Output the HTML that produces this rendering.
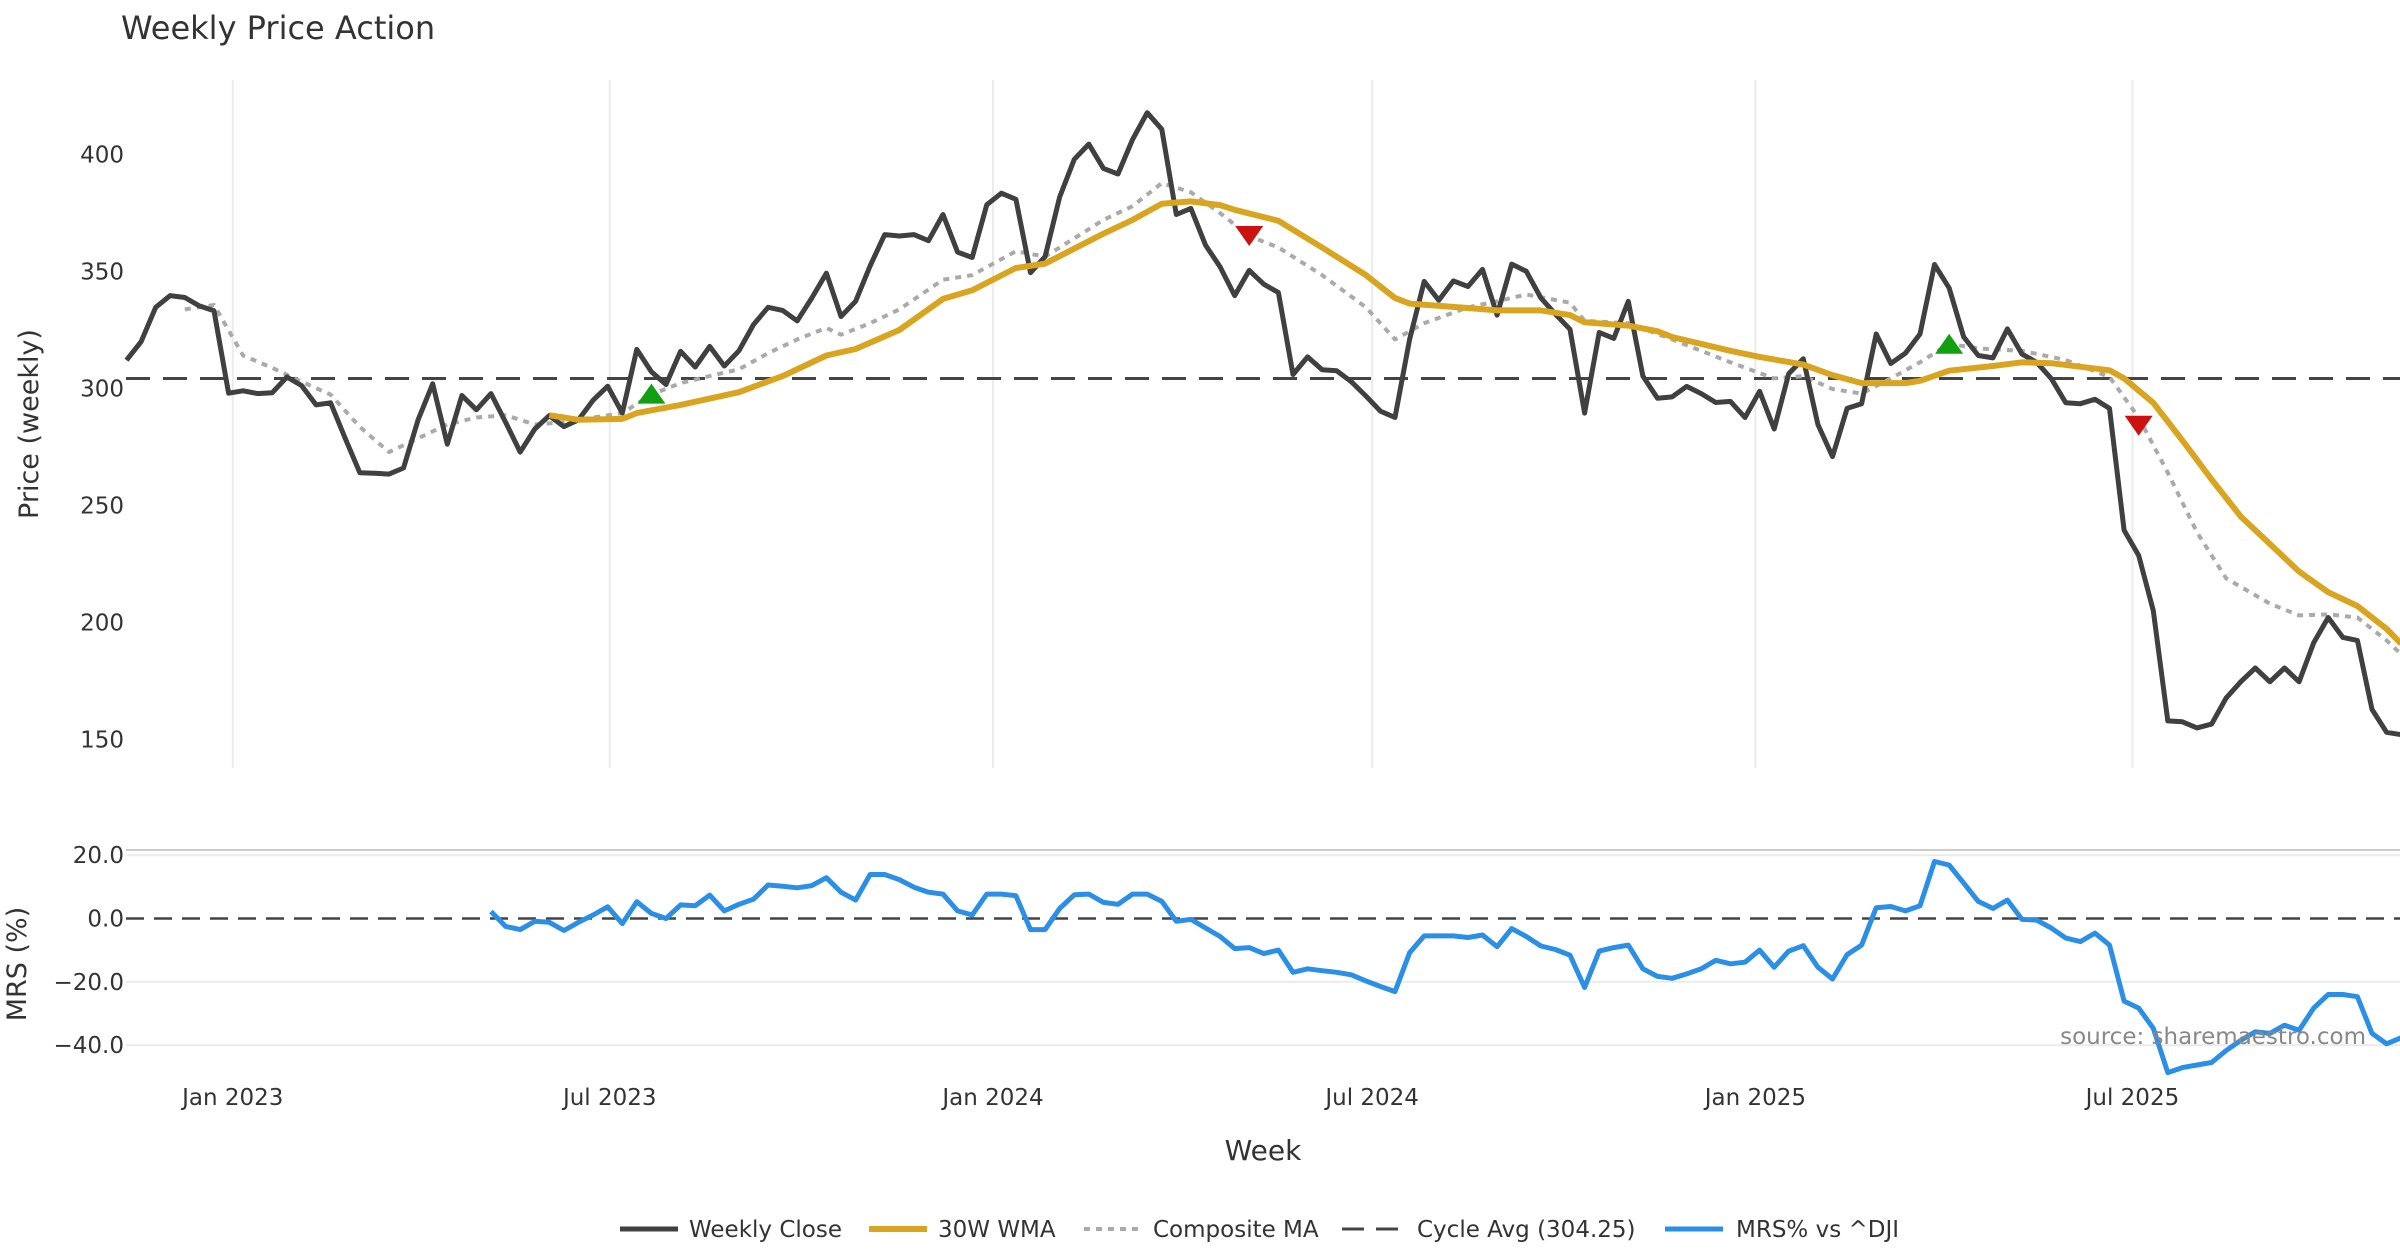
<!DOCTYPE html>
<html><head><meta charset="utf-8">
<style>
html,body{margin:0;padding:0;background:#fff;}
svg{display:block;font-family:"DejaVu Sans","Liberation Sans",sans-serif;}
</style></head>
<body>
<svg id="chart" width="2400" height="1260" viewBox="0 0 2400 1260" xmlns="http://www.w3.org/2000/svg">
<text x="121" y="39" font-size="32" fill="#333">Weekly Price Action</text>
<g id="grid"></g>
<g id="axes"></g>
<g id="series"></g>
<g id="legend"></g>
</svg>
<script>
const closeValues=[312.1,320,334.7,339.7,338.9,335.3,333.2,298,299,297.8,298.2,304.9,301.3,293,293.9,278.7,264,263.8,263.4,266,286.6,302,276.2,297,290.9,297.8,285.6,272.8,282.7,288.4,283.7,286.6,295,301,289.5,316.7,307.2,301.7,315.9,309.2,318,309.6,316.1,327.3,334.7,333.4,328.9,338.7,349.3,330.8,337.3,352.4,365.8,365.2,365.8,363.2,374.4,358.3,356,378.6,383.5,380.9,349.5,356.4,381.9,398,404.5,394.1,391.7,406.5,417.9,410.8,374.4,377,361.3,352,339.7,350.5,344.6,341,306,313.5,308,307.6,302.9,296.8,290.3,287.6,321,345.8,337.7,346,343.6,350.9,331.4,353.2,350.1,338.7,331.8,325.3,289.5,324,321.4,337.3,305.3,295.8,296.4,300.9,297.8,294,294.5,287.6,298.8,282.7,306.3,312.7,284.6,270.9,291.5,293.5,323.3,310.7,315.1,323.3,353,343,322,314.1,313.1,325.5,314.7,311.2,304.3,293.9,293.5,295.4,291.5,239.4,228.6,205,157.9,157.5,154.9,156.5,167.7,174.6,180.5,174.6,180.5,174.6,191.3,202.1,193.6,192.3,162.8,153,152];
const wmaWeeks=[29,31,34,35,38,42,45,48,50,53,56,58,61,63,67,69,71,73,75,76,79,82,85,87,88,92,94,97,99,100,103,105,106,110,112,115,117,119,122,123,125,128,130,132,136,137,139,141,143,145,147,149,151,153,155,156];
const wmaValues=[288.6,286.6,287,289.5,293,298.4,305.3,314.1,316.9,325,338.3,342,351.5,353.4,366.2,372.1,379,380,378.4,376.4,371.7,360.3,348.5,338.7,336.3,334.4,333.4,333.4,331.4,328.3,326.9,324.5,322,316.1,313.5,310.2,305.7,302.3,302.3,303.3,307.6,309.6,311.2,310.8,307.8,304.3,293.9,277.8,261.1,245.3,233.5,221.7,212.9,207,197.2,190.9];
const compWeeks=[4,6,8,10,12,14,16,18,20,22,24,26,28,30,32,34,36,38,40,42,44,46,48,49,51,53,56,58,61,63,65,67,69,71,73,75,77,79,82,85,87,89,92,94,96,99,100,103,106,110,113,115,117,119,121,123,125,127,130,133,136,138,140,142,144,147,149,151,153,155,156];
const compValues=[333.8,335.7,314.1,308.8,302.9,297.4,283.6,272.8,278.7,284.6,287.6,288.6,284.6,285.6,287.6,289.5,297.4,302.3,305.3,308.2,315.1,321,325.9,323,327.9,333.8,346.5,348.5,358.7,356.4,364.2,372.1,378,387.8,383.9,375,365.2,360.3,348.5,334.7,321,327.9,334.7,337.3,340.2,336.7,328.9,327.9,321,311.2,304.3,305.3,299.8,297.8,304.3,311.2,319.1,317.1,316.1,312.2,304.9,287.6,264,238.5,218.8,208,203,203.4,202.1,192.3,186.4];
const mrsStart=25;
const mrsValues=[2.2,-2.5,-3.5,-0.9,-1.2,-3.8,-1.2,1.1,3.7,-1.6,5.3,1.6,0,4.3,4,7.4,2.4,4.5,6.1,10.6,10.2,9.7,10.4,12.9,8.3,5.8,13.9,13.9,12.3,9.9,8.3,7.7,2.4,1.1,7.7,7.7,7.2,-3.5,-3.5,3.2,7.5,7.7,5.1,4.5,7.7,7.7,5.4,-0.9,-0.3,-3,-5.7,-9.5,-9.2,-11.1,-10,-17,-15.9,-16.5,-17,-17.8,-19.7,-21.5,-23.1,-10.8,-5.5,-5.5,-5.5,-6,-5.2,-8.9,-3.2,-5.7,-8.7,-9.8,-11.6,-21.8,-10.3,-9.2,-8.4,-15.9,-18.3,-18.9,-17.5,-15.9,-13.2,-14.3,-13.8,-10,-15.4,-10.3,-8.6,-15.4,-19.1,-11.4,-8.4,3.4,3.8,2.4,4,18,16.9,11.2,5.4,3.2,5.8,-0.3,-0.5,-3,-6.2,-7.3,-4.6,-8.4,-26.1,-28.3,-34.7,-48.7,-47.1,-46.3,-45.5,-41.7,-38.5,-35.8,-36.3,-33.7,-35.3,-28.3,-24,-24,-24.7,-36.3,-39.6,-37.7];
const buyWeeks=[36,125];
const buyValues=[297.4,318.7];
const sellWeeks=[77,138];
const sellValues=[365.6,284.5];
const cycleAvg=304.25;
const priceTicks=[150,200,250,300,350,400];
const mrsTicks=[20,0,-20,-40];
const mrsTickLabels=["20.0","0.0","\u221220.0","\u221240.0"];
const xTickLabels=["Jan 2023","Jul 2023","Jan 2024","Jul 2024","Jan 2025","Jul 2025"];
const xTickDates=["2023-01-01","2023-07-01","2024-01-01","2024-07-01","2025-01-01","2025-07-01"];
const startDate="2022-11-11";

const NS="http://www.w3.org/2000/svg";
const DAY=86400000;
const t0=Date.parse(startDate);
function xDate(s){return 126.5+(Date.parse(s)-t0)/DAY*2.083;}
function xWeek(i){return 126.5+i*7*2.083;}
function yPrice(v){return 154.6+(400-v)*2.339;}
function yMrs(v){return 918.5-v*3.165;}
function mk(tag,attrs,parent){const e=document.createElementNS(NS,tag);for(const k in attrs)e.setAttribute(k,attrs[k]);parent.appendChild(e);return e;}
const grid=document.getElementById('grid'),axes=document.getElementById('axes'),series=document.getElementById('series'),legend=document.getElementById('legend');

xTickDates.forEach((d,i)=>{
  const x=xDate(d);
  const g=mk('line',{x1:x,x2:x,y1:80,y2:768,stroke:'#ebebeb','stroke-width':2},grid);
  
  
  const t=mk('text',{x:x,y:1105,'font-size':23,fill:'#333','text-anchor':'middle'},axes);
  t.textContent=xTickLabels[i];
  
  
});
priceTicks.forEach(v=>{
  const t=mk('text',{x:124,y:yPrice(v)+8,'font-size':23,fill:'#333','text-anchor':'end'},axes);
  t.textContent=String(v);
  
  
});
const border=mk('line',{x1:126,x2:2400,y1:850,y2:850,stroke:'#cccccc','stroke-width':2},grid);


mrsTicks.forEach((v,i)=>{
  const y=yMrs(v);
  if(v!==0){const l=mk('line',{x1:126,x2:2400,y1:y,y2:y,stroke:'#ebebeb','stroke-width':2},grid);
  
  }
  const t=mk('text',{x:124,y:y+8,'font-size':23,fill:'#333','text-anchor':'end'},axes);
  t.textContent=mrsTickLabels[i];
  
  
});
const yl=mk('text',{x:0,y:0,'font-size':27,fill:'#333','text-anchor':'middle',transform:'translate(38,424) rotate(-90)'},axes);
yl.textContent='Price (weekly)';


const yl2=mk('text',{x:0,y:0,'font-size':27,fill:'#333','text-anchor':'middle',transform:'translate(26,964) rotate(-90)'},axes);
yl2.textContent='MRS (%)';


const xl=mk('text',{x:1263,y:1160,'font-size':28,fill:'#333','text-anchor':'middle'},axes);
xl.textContent='Week';



function poly(xs,ys,attrs,name){
  const pts=xs.map((x,i)=>x.toFixed(1)+','+ys[i].toFixed(1)).join(' ');
  const p=mk('polyline',Object.assign({points:pts,fill:'none','stroke-linejoin':'round'},attrs),series);
  
  
}
const cy=yPrice(cycleAvg);
const cl=mk('line',{x1:126,x2:2400,y1:cy,y2:cy,stroke:'#444','stroke-width':3,'stroke-dasharray':'24,13'},series);


const zl=mk('line',{x1:126,x2:2400,y1:yMrs(0),y2:yMrs(0),stroke:'#444','stroke-width':2.5,'stroke-dasharray':'18,10'},series);



poly(compWeeks.map(xWeek),compValues.map(yPrice),{stroke:'#aaaaaa','stroke-width':4,'stroke-dasharray':'6,6'},'composite-ma-line');
poly(closeValues.map((v,i)=>xWeek(i)),closeValues.map(yPrice),{stroke:'#404040','stroke-width':5},'weekly-close-line');
poly(wmaWeeks.map(xWeek),wmaValues.map(yPrice),{stroke:'#d9a520','stroke-width':6},'wma-30w-line');
poly(mrsValues.map((v,i)=>xWeek(mrsStart+i)),mrsValues.map(yMrs),{stroke:'#2b8fe8','stroke-width':5},'mrs-line');

buyWeeks.forEach((w,i)=>{
  const x=xWeek(w),y=yPrice(buyValues[i]);
  const p=mk('polygon',{points:`${x-14},${y+9} ${x+14},${y+9} ${x},${y-11}`,fill:'#12a012'},series);
  
  
});
sellWeeks.forEach((w,i)=>{
  const x=xWeek(w),y=yPrice(sellValues[i]);
  const p=mk('polygon',{points:`${x-14},${y-9} ${x+14},${y-9} ${x},${y+11}`,fill:'#cc1111'},series);
  
  
});

const src=mk('text',{x:2366,y:1044,'font-size':23,fill:'#888','text-anchor':'end'},series);
src.textContent='source: sharemaestro.com';



const legendItems=[
 {x:620,tx:689,label:'Weekly Close',stroke:'#404040',w:5,dash:''},
 {x:869,tx:938,label:'30W WMA',stroke:'#d9a520',w:6,dash:''},
 {x:1084,tx:1153,label:'Composite MA',stroke:'#aaaaaa',w:4,dash:'6,6'},
 {x:1342,tx:1417,label:'Cycle Avg (304.25)',stroke:'#444',w:3,dash:'22,12'},
 {x:1665,tx:1736,label:'MRS% vs ^DJI',stroke:'#2b8fe8',w:5,dash:''}
];
legendItems.forEach(it=>{
  const g=mk('g',{},legend);
  
  
  const l=mk('line',{x1:it.x,x2:it.x+58,y1:1229,y2:1229,stroke:it.stroke,'stroke-width':it.w,'stroke-dasharray':it.dash},g);
  
  
  const t=mk('text',{x:it.tx,y:1237,'font-size':23,fill:'#333'},g);
  t.textContent=it.label;
  
  
});
</script>
</body></html>
